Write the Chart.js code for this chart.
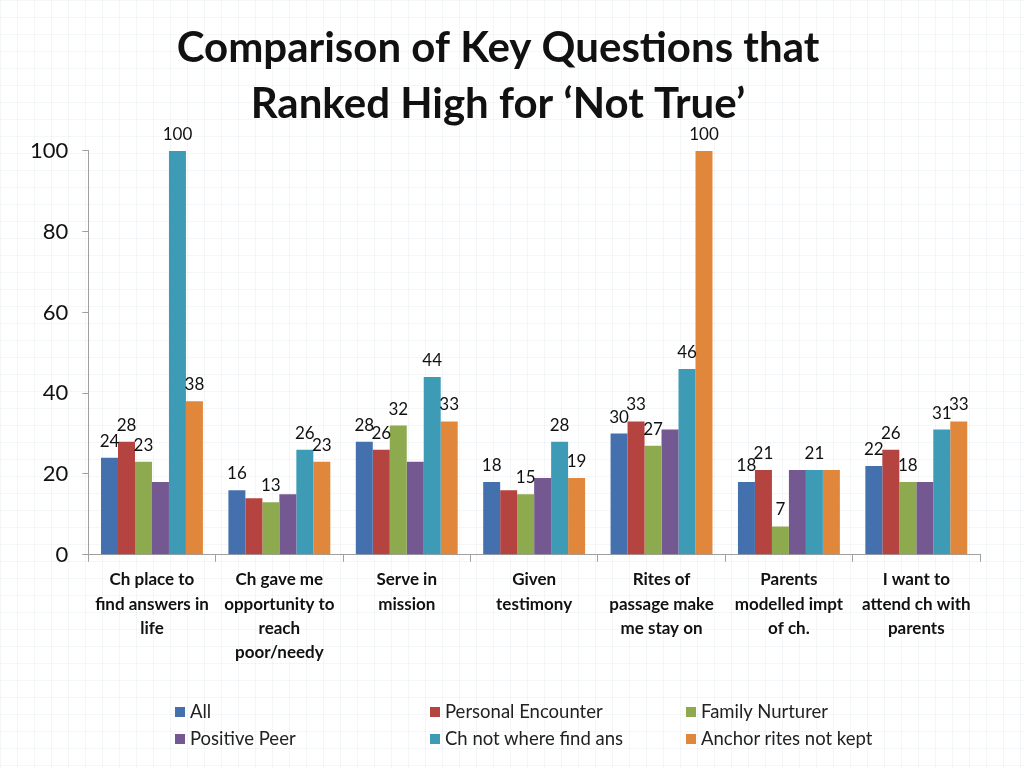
<!DOCTYPE html>
<html>
<head>
<meta charset="utf-8">
<script src="https://cdn.jsdelivr.net/npm/chart.js@4.4.0/dist/chart.umd.min.js"></script>
<style>
  html, body {
    margin: 0;
    padding: 0;
    width: 1024px;
    height: 768px;
    overflow: hidden;
    background-color: #ffffff;
    background-image:
      linear-gradient(to right, rgba(205, 218, 225, 0.22) 1px, transparent 1px),
      linear-gradient(to bottom, rgba(205, 218, 225, 0.22) 1px, transparent 1px);
    background-size: 17px 17px;
    font-family: Lato, "Open Sans", sans-serif;
  }
  #wrap {
    position: relative;
    width: 1024px;
    height: 768px;
  }
  #legend {
    position: absolute;
    left: 0;
    top: 700px;
    width: 1024px;
    height: 60px;
  }
  .leg-item {
    position: absolute;
    font-size: 18.5px;
    color: #222;
    line-height: 22px;
    white-space: nowrap;
  }
  .leg-box {
    display: inline-block;
    width: 10px;
    height: 10px;
    margin-right: 5px;
    vertical-align: 1px;
  }
</style>
</head>
<body>
<div id="wrap">
  <canvas id="chart" width="1024" height="768"></canvas>
  <div id="legend"></div>
</div>
<script>
// categories
const categories = [
    ['Ch place to', 'find answers in', 'life'],
    ['Ch gave me', 'opportunity to', 'reach', 'poor/needy'],
    ['Serve in', 'mission'],
    ['Given', 'testimony'],
    ['Rites of', 'passage make', 'me stay on'],
    ['Parents', 'modelled impt', 'of ch.'],
    ['I want to', 'attend ch with', 'parents']
];

// series values
const allValues      = [24, 16, 28, 18, 30, 18, 22];
const personalEnc    = [28, 14, 26, 16, 33, 21, 26];
const familyNurturer = [23, 13, 32, 15, 27, 7, 18];
const positivePeer   = [18, 15, 23, 19, 31, 21, 18];
const chNotWhere     = [100, 26, 44, 28, 46, 21, 31];
const anchorRites    = [38, 23, 33, 19, 100, 21, 33];

const seriesNames = ['All', 'Personal Encounter', 'Family Nurturer', 'Positive Peer', 'Ch not where find ans', 'Anchor rites not kept'];
const seriesColors = ['#4471AE', '#B5433F', '#8DAA4F', '#735891', '#3E9BB5', '#E0873B'];

// which data labels are shown (the original only labels some bars)
const showLabels = [
    [1, 1, 1, 1, 1, 1, 1],
    [1, 0, 1, 0, 1, 1, 1],
    [1, 1, 1, 1, 1, 1, 1],
    [0, 0, 0, 0, 0, 0, 0],
    [1, 1, 1, 1, 1, 1, 1],
    [1, 1, 1, 1, 1, 0, 1]
];

// y axis ticks
const yMin = 0;
const yMax = 100;
const yStep = 20;

const seriesValues = [allValues, personalEnc, familyNurturer, positivePeer, chNotWhere, anchorRites];

// 数据标签插件
const barLabels = {
    id: 'barLabels',
    afterDatasetsDraw(chart) {
        const ctx = chart.ctx;
        ctx.save();
        ctx.font = '17px Lato, "Open Sans", sans-serif';
        ctx.fillStyle = '#111';
        ctx.textAlign = 'center';
        ctx.textBaseline = 'bottom';
        chart.data.datasets.forEach((ds, i) => {
            const meta = chart.getDatasetMeta(i);
            meta.data.forEach((bar, j) => {
                if (!showLabels[i][j]) return;
                ctx.fillText(String(ds.data[j]), bar.x, bar.y - 8);
            });
        });
        ctx.restore();
    }
};

const datasets = seriesNames.map((name, i) => ({
    label: name,
    data: seriesValues[i],
    backgroundColor: seriesColors[i],
    borderWidth: 0,
    barPercentage: 1.0,
    categoryPercentage: 0.8
}));

const ctx = document.getElementById('chart').getContext('2d');
const chart = new Chart(ctx, {
    type: 'bar',
    data: {
        labels: categories,
        datasets: datasets
    },
    options: {
        responsive: false,
        animation: false,
        layout: {
            padding: { left: 16, right: 44, top: 0, bottom: 97 }
        },
        plugins: {
            legend: { display: false },
            tooltip: { enabled: false },
            title: {
                display: true,
                text: ['Comparison of Key Questions that', 'Ranked High for \u2018Not True\u2019'],
                color: '#111',
                font: { family: 'Lato, "Open Sans", sans-serif', size: 42, weight: 'bold', lineHeight: 1.32 },
                padding: { top: 21, bottom: 19 }
            }
        },
        scales: {
            x: {
                grid: {
                    drawOnChartArea: false,
                    tickLength: 7,
                    color: '#a0a0a0'
                },
                border: { color: '#a0a0a0' },
                ticks: {
                    color: '#111',
                    font: { family: 'Lato, "Open Sans", sans-serif', size: 17, weight: 'bold', lineHeight: 1.43 },
                    maxRotation: 0,
                    autoSkip: false,
                    padding: 6
                }
            },
            y: {
                min: yMin,
                max: yMax,
                grid: {
                    drawOnChartArea: false,
                    tickLength: 6,
                    color: '#a0a0a0'
                },
                border: { color: '#a0a0a0' },
                ticks: {
                    stepSize: yStep,
                    color: '#111',
                    font: { family: 'Lato, "Open Sans", sans-serif', size: 22 },
                    padding: 14
                }
            }
        }
    },
    plugins: [barLabels]
});

// 图例 (三列两行)
const legendEl = document.getElementById('legend');
const colX = [175, 430, 686];
chart.data.datasets.forEach((ds, i) => {
    const item = document.createElement('div');
    item.className = 'leg-item';
    item.style.left = colX[i % 3] + 'px';
    item.style.top = (Math.floor(i / 3) * 27) + 'px';
    const box = document.createElement('span');
    box.className = 'leg-box';
    box.style.background = ds.backgroundColor;
    item.appendChild(box);
    item.appendChild(document.createTextNode(ds.label));
    legendEl.appendChild(item);
});
</script>
</body>
</html>
